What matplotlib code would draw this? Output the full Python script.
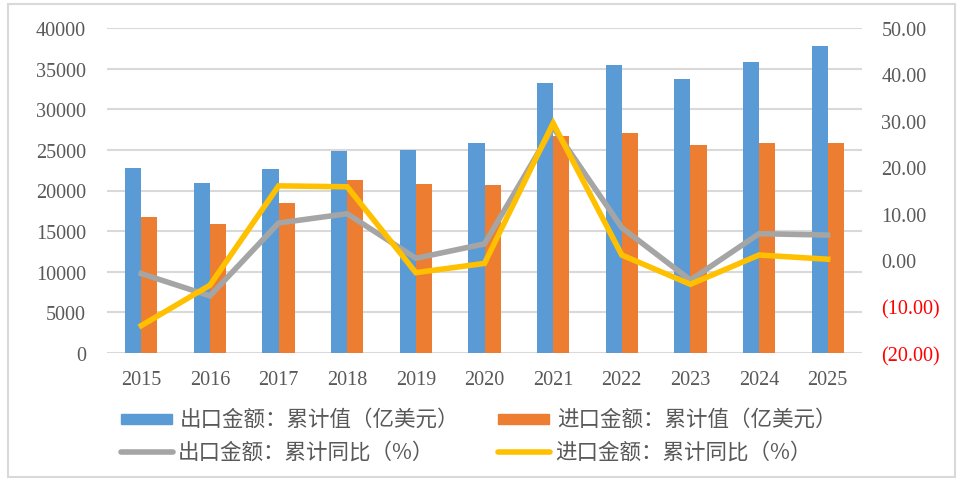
import matplotlib
matplotlib.use("Agg")
import matplotlib.pyplot as plt
import numpy as np
from matplotlib.patches import Rectangle
from matplotlib.lines import Line2D
from matplotlib.ticker import FixedLocator

years = ["2015", "2016", "2017", "2018", "2019", "2020", "2021", "2022", "2023", "2024", "2025"]
export_value = [22770, 20920, 22600, 24820, 24950, 25850, 33230, 35450, 33720, 35850, 37750]
import_value = [16780, 15880, 18460, 21290, 20800, 20680, 26745, 27040, 25600, 25850, 25850]
export_yoy = [-2.9, -7.7, 8.0, 10.0, 0.4, 3.5, 28.6, 7.0, -4.3, 5.7, 5.4]
import_yoy = [-14.1, -5.4, 16.0, 15.8, -2.7, -0.7, 29.5, 1.1, -5.2, 1.1, 0.2]

label_ev = "出口金额：累计值（亿美元）"
label_iv = "进口金额：累计值（亿美元）"
label_ey = "出口金额：累计同比（%）"
label_iy = "进口金额：累计同比（%）"

BLUE = "#5B9BD5"
ORANGE = "#ED7D31"
GREY = "#A5A5A5"
YELLOW = "#FFC000"
TXT = "#595959"

plt.rcParams['font.family'] = ['Noto Sans CJK SC', 'DejaVu Sans']

W, H = 965, 481
fig = plt.figure(figsize=(W / 100, H / 100), dpi=100)
ax = fig.add_axes([107 / W, 1 - 354 / H, (862 - 107) / W, (354 - 29) / H])
ax2 = ax.twinx()

x = np.arange(len(years))
bw = 0.235
ax.bar(x - bw / 2, export_value, width=bw, color=BLUE, zorder=3)
ax.bar(x + bw / 2, import_value, width=bw, color=ORANGE, zorder=3)
ax.set_xlim(-0.5, len(years) - 0.5)
ax.set_ylim(0, 40000)
ax.yaxis.set_major_locator(FixedLocator(np.arange(0, 40001, 5000)))
ax.grid(axis='y', color='#D9D9D9', linewidth=1.5, zorder=0)
ax.set_axisbelow(True)
ax.set_xticks(x)
ax.set_xticklabels(years)
for s in ax.spines.values():
    s.set_visible(False)
for s in ax2.spines.values():
    s.set_visible(False)
ax.tick_params(axis='both', length=0, colors=TXT)
ax.tick_params(axis='y', pad=15)
ax.tick_params(axis='x', pad=12)
serif = ['Liberation Serif', 'DejaVu Serif']
for lab in ax.get_yticklabels() + ax.get_xticklabels():
    lab.set_family(serif)
    lab.set_fontsize(14.5)
    lab.set_color(TXT)

ax2.plot(x, export_yoy, color=GREY, linewidth=4, solid_joinstyle='miter', zorder=4)
ax2.plot(x, import_yoy, color=YELLOW, linewidth=4, solid_joinstyle='miter', zorder=5)
ax2.set_ylim(-20, 50)
rt = np.arange(-20, 51, 10)
ax2.yaxis.set_major_locator(FixedLocator(rt))
ax2.set_yticklabels([f"({abs(v):.2f})" if v < 0 else f"{v:.2f}" for v in rt])
ax2.tick_params(axis='y', length=0, pad=14)
for v, lab in zip(rt, ax2.get_yticklabels()):
    lab.set_family(serif)
    lab.set_fontsize(14.5)
    lab.set_color('#FF0000' if v < 0 else TXT)

# legend drawn manually at reference positions (pixel coords)
def fx(px):
    return px / W

def fy(py):
    return 1 - py / H

entries = [
    ("bar", BLUE, label_ev, 121, 420),
    ("bar", ORANGE, label_iv, 498, 420),
    ("line", GREY, label_ey, 119, 453),
    ("line", YELLOW, label_iy, 496, 453),
]
for kind, col, lab, hx, hy in entries:
    if kind == "bar":
        fig.patches.append(Rectangle((fx(hx), fy(hy + 5)), 51 / W, 10 / H,
                                     transform=fig.transFigure, color=col))
    else:
        fig.lines.append(Line2D([fx(hx + 2), fx(hx + 54)], [fy(hy), fy(hy)],
                                transform=fig.transFigure, color=col, lw=4,
                                solid_capstyle='round'))
    fig.text(fx(hx + 59), fy(hy), lab, fontsize=15.5, color=TXT, va='center', ha='left')

fig.patches.append(Rectangle((8 / W, 1 - 478 / H), (955 - 8) / W, (478 - 5) / H,
                             transform=fig.transFigure, fill=False,
                             edgecolor='#D9D9D9', linewidth=1.5))

fig.savefig("out.png", dpi=100)
